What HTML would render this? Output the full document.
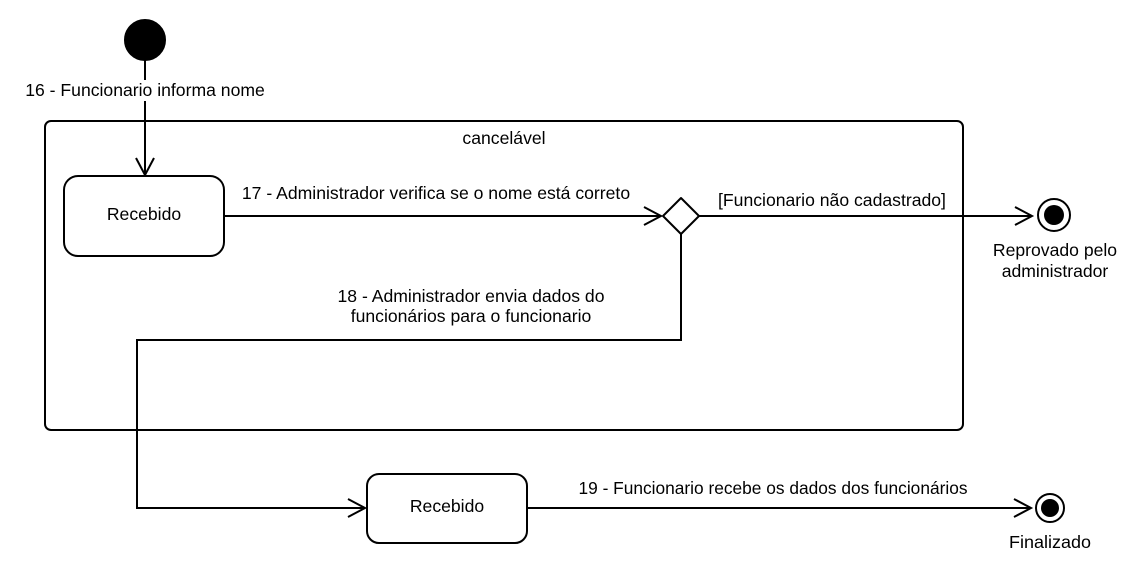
<!DOCTYPE html>
<html><head><meta charset="utf-8"><style>html,body{margin:0;padding:0;background:#fff}svg{display:block}</style></head>
<body>
<svg width="1143" height="580" viewBox="0 0 1143 580" xmlns="http://www.w3.org/2000/svg" font-family="Liberation Sans, sans-serif" font-size="17.6" fill="none" stroke="#000" stroke-width="2">
<rect x="45" y="121" width="918" height="309" rx="6"/>
<circle cx="145" cy="40" r="20" fill="#000"/>
<path d="M145 60 V175"/>
<path d="M136 158 L145 175 L154 158"/>
<rect x="64" y="176" width="160" height="80" rx="14" fill="#fff"/>
<path d="M224 216 H661"/>
<path d="M644 207 L661 216 L644 225"/>
<path d="M681 198 L699 216 L681 234 L663 216 Z" stroke-linejoin="round" fill="#fff"/>
<path d="M699 216 H1032"/>
<path d="M1015 207 L1032 216 L1015 225"/>
<circle cx="1054" cy="215" r="16" fill="#fff"/>
<circle cx="1054" cy="215" r="10" fill="#000" stroke="none"/>
<path d="M681 234 V340 H137 V508 H365"/>
<path d="M348 499 L365 508 L348 517"/>
<rect x="367" y="474" width="160" height="69" rx="12" fill="#fff"/>
<path d="M527 508 H1031"/>
<path d="M1014 499 L1031 508 L1014 517"/>
<circle cx="1050" cy="508" r="14" fill="#fff"/>
<circle cx="1050" cy="508" r="9" fill="#000" stroke="none"/>
<rect x="20" y="80" width="250" height="21" fill="#fff" stroke="none"/>
<g fill="#000" stroke="none" text-anchor="middle">
<text x="145" y="96">16 - Funcionario informa nome</text>
<text x="504" y="144">cancelável</text>
<text x="144" y="220">Recebido</text>
<text x="436" y="199">17 - Administrador verifica se o nome está correto</text>
<text x="832" y="206">[Funcionario não cadastrado]</text>
<text x="1055" y="256">Reprovado pelo</text>
<text x="1055" y="277">administrador</text>
<text x="471" y="302">18 - Administrador envia dados do</text>
<text x="471" y="322">funcionários para o funcionario</text>
<text x="447" y="512">Recebido</text>
<text x="773" y="494" textLength="389" lengthAdjust="spacingAndGlyphs">19 - Funcionario recebe os dados dos funcionários</text>
<text x="1050" y="548" textLength="82" lengthAdjust="spacingAndGlyphs">Finalizado</text>
</g>
</svg>
</body></html>
